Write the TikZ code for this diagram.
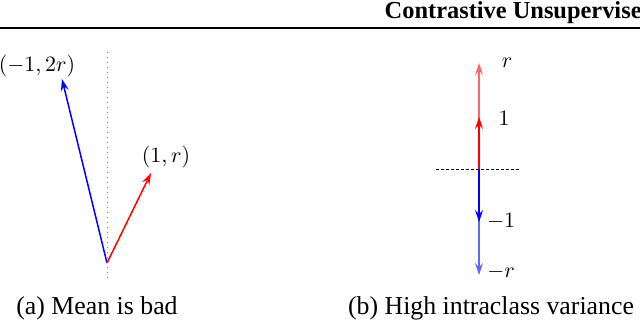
\documentclass[tikz,border=0pt]{standalone}
\usepackage{fontspec}
\setmainfont{Liberation Serif}
\usetikzlibrary{arrows.meta}
\begin{document}
\begin{tikzpicture}[x=0.5pt,y=-0.5pt,
  vec/.style={line width=0.75pt,-{Stealth[open,length=6pt,width=4pt,inset=2.2pt]}},
  lbl/.style={inner sep=0pt,font=\fontsize{11}{13}\selectfont},
  captext/.style={inner sep=0pt,font=\fontsize{12.9}{15}\selectfont}]
\useasboundingbox (0,0) rectangle (640,324);
% header
\node[inner sep=0pt,anchor=base east,font=\fontsize{12.2}{15}\selectfont\bfseries] (hdr) at (642,19) {Contrastive Unsupervise};
\coordinate (rl) at (0,28);
\coordinate (rr) at (640,28);
\draw[line width=1.2pt] (rl) -- (rr);
% left panel
\coordinate (axtop) at (107,52);
\coordinate (axbot) at (107,282);
\draw[gray,dotted,line width=0.5pt] (axtop) -- (axbot);
\coordinate (o) at (107,263);
\coordinate (b) at (62,79);
\coordinate (a) at (151,173);
\draw[vec,blue] (o) -- (b);
\draw[vec,red] (o) -- (a);
\node[lbl] (lb) at (37,66) {$(-1,2r)$};
\node[lbl] (la) at (166,157) {$(1,r)$};
\node[captext] (ca) at (97,308) {(a) Mean is bad};
% right panel
\coordinate (hl) at (436,169);
\coordinate (hr) at (521,169);
\draw[line width=0.4pt,dash pattern=on 1.5pt off 1pt] (hl) -- (hr);
\coordinate (o2) at (479,169);
\coordinate (p1) at (479,117);
\coordinate (pr) at (479,63);
\coordinate (m1) at (479,222);
\coordinate (mr) at (479,275);
\draw[vec,red!60] (o2) -- (pr);
\draw[vec,red] (o2) -- (p1);
\draw[vec,blue!60] (o2) -- (mr);
\draw[vec,blue] (o2) -- (m1);
\node[lbl] (lr) at (507,63) {$r$};
\node[lbl] (l1) at (504,118) {$1$};
\node[lbl] (lm1) at (501,221) {$-1$};
\node[lbl] (lmr) at (501,272) {$-r$};
\node[captext] (cb) at (491,308) {(b) High intraclass variance};
\end{tikzpicture}
\end{document}
